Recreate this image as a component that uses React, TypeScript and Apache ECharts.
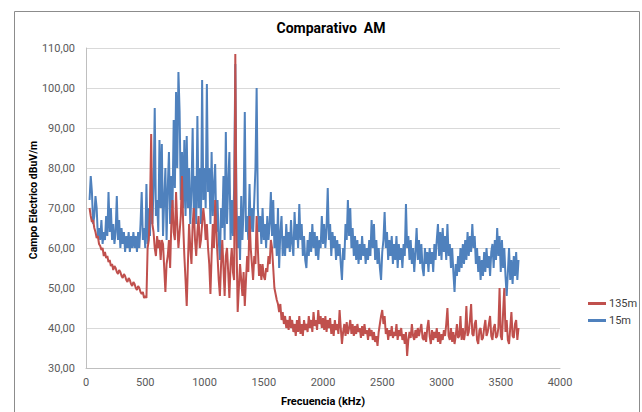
import React, { useEffect, useRef } from "react";
import * as echarts from "echarts";

// Sampling grid (kHz): first sample and spacing of the read-off values
const FREQ_START = 30;
const FREQ_STEP = 10;

const xTicks = [0, 500, 1000, 1500, 2000, 2500, 3000, 3500, 4000];
const yTicks = [30, 40, 50, 60, 70, 80, 90, 100, 110];

// 15m series (dBuV/m), one value per 10 kHz sample from 30 kHz
const values15m = [
  72, 78, 74, 66, 68, 73, 70, 63, 65, 62, 67, 61, 64, 62, 68, 63, 74, 64, 70, 62,
  66, 61, 64, 73, 62, 67, 60, 65, 61, 64, 59, 63, 60, 64, 59, 63, 60, 64, 60, 63,
  59, 64, 60, 66, 74, 62, 65, 60, 76, 61, 70, 63, 80, 66, 75, 95, 68, 72, 64, 87,
  70, 86, 63, 72, 80, 62, 75, 84, 66, 78, 70, 92, 75, 99, 80, 104, 94, 72, 84, 70,
  87, 68, 88, 70, 80, 66, 74, 90, 68, 78, 66, 93, 70, 80, 66, 102, 72, 80, 70, 101,
  74, 80, 66, 84, 68, 76, 81, 64, 72, 62, 57, 70, 65, 78, 62, 89, 66, 76, 84, 62,
  72, 63, 75, 106, 70, 60, 68, 57, 73, 62, 70, 94, 64, 68, 62, 76, 64, 70, 64, 72,
  80, 100, 70, 64, 68, 61, 70, 62, 66, 60, 68, 62, 66, 74, 63, 72, 60, 66, 58, 70,
  55, 64, 68, 58, 63, 58, 66, 60, 64, 59, 67, 61, 58, 69, 62, 66, 60, 71, 62, 66,
  58, 63, 57, 55, 62, 58, 64, 59, 66, 60, 64, 58, 63, 57, 62, 60, 68, 61, 66, 60,
  65, 75, 62, 66, 58, 64, 60, 63, 57, 62, 58, 61, 56, 52, 60, 57, 66, 62, 72, 63,
  70, 60, 65, 58, 63, 57, 62, 56, 61, 57, 63, 58, 61, 56, 60, 57, 62, 58, 67, 60,
  66, 57, 62, 56, 60, 55, 52, 59, 62, 69, 60, 64, 57, 62, 58, 63, 56, 61, 57, 63,
  55, 61, 57, 60, 55, 61, 58, 71, 60, 63, 57, 62, 56, 60, 54, 59, 65, 57, 62, 56,
  61, 55, 53, 60, 56, 59, 54, 60, 56, 59, 54, 61, 57, 62, 66, 58, 64, 57, 65, 59,
  63, 57, 66, 58, 61, 55, 60, 54, 49, 56, 53, 58, 54, 60, 55, 61, 56, 62, 57, 64,
  58, 63, 59, 66, 60, 63, 56, 60, 54, 58, 52, 57, 53, 59, 54, 60, 55, 58, 53, 59,
  61, 55, 62, 57, 65, 58, 63, 54, 62, 55, 60, 53, 48, 54, 60, 52, 57, 51, 58, 53,
  59, 52, 57,
];

// 135m series (dBuV/m), one value per 10 kHz sample from 30 kHz
const values135m = [
  70, 68, 66.5, 67, 65, 64, 62.5, 63, 61, 60.5, 59.5, 60, 58, 59, 57.5, 58, 56.5, 57, 55.5, 56,
  54.5, 55.5, 55, 54, 53.5, 54.5, 54, 53, 52.5, 53.5, 53, 52, 51.5, 52.5, 52, 51, 50.5, 51.5, 51, 50,
  49.5, 50.5, 50, 49, 48.5, 49, 47.5, 48, 47.5, 60, 62, 70, 88.5, 66, 64, 60, 58, 63, 60, 62,
  57, 62, 61, 55, 49, 56, 58, 62, 55, 66, 72, 64, 62, 74, 66, 60, 64, 68, 78, 66,
  58, 52, 45.5, 56, 66, 60, 56, 66, 70, 62, 58, 64, 68, 60, 62, 66, 70, 67, 62, 66,
  60, 56, 48.5, 58, 66, 60, 72, 64, 58, 52, 48, 56, 62, 55, 48, 58, 60, 54, 47.5, 56,
  60, 54, 52, 108.5, 62, 44, 50, 56, 52, 48, 54, 45.5, 52, 58, 54, 68, 60, 56, 52, 58,
  56, 68, 60, 53, 56, 52, 56, 53, 52, 55, 54, 58, 56, 62, 60, 55, 50, 48.5, 47, 46,
  44, 46, 42, 44, 41, 43, 40, 42, 39.5, 43, 40, 42, 39, 41, 38, 42, 39, 43, 38.5, 41,
  38, 42, 39.5, 41, 39, 43, 40, 42, 39, 44, 40.5, 42, 39.5, 44.5, 41, 43, 40, 42.5, 39.5, 43,
  39, 42, 40, 42.5, 38.5, 41, 38, 42, 39.5, 41, 38.5, 44.5, 40, 36, 39, 41, 38, 41.5, 38.5, 40,
  42, 38.5, 41, 38, 40.5, 38.5, 41, 39, 40, 37.5, 40.5, 38, 41, 38.5, 39.5, 37, 40, 38, 39.5, 37,
  39, 36.5, 38, 35.5, 39, 41, 43, 44.5, 41, 43, 38.5, 40, 37, 39.5, 38, 40.5, 37.5, 39, 38, 41,
  37, 39.5, 38, 40, 37, 38.5, 36, 39, 33, 37, 39, 37.5, 41, 38, 37, 39.5, 37.5, 40, 38, 39.5,
  41, 37.5, 37, 39, 36.5, 40, 42, 38, 36, 39.5, 37, 39, 37.5, 40, 36.5, 39, 36, 38.5, 37, 39.5,
  38, 41, 45, 38, 37, 40, 36.5, 39, 36, 38, 41, 37.5, 38, 43, 37, 40, 37, 39, 45.5, 38,
  39, 42, 46, 38.5, 38, 41, 42, 37, 36, 39.5, 40, 37, 37.5, 40, 42, 38, 39, 41, 43, 38,
  37, 40, 41, 37.5, 38, 40, 50, 38, 37, 44, 50, 39, 42, 37, 36, 40, 44, 38, 37.5, 41,
  42, 37, 40,
];

const toPairs = (vals: number[]) =>
  vals.map((v, i) => [FREQ_START + i * FREQ_STEP, v]);

const FONT = "Roboto";

export default function App() {
  const ref = useRef<HTMLDivElement>(null);
  useEffect(() => {
    if (!ref.current) return;
    const chart = echarts.init(ref.current, undefined, { renderer: "svg" });
    chart.setOption({
      animation: false,
      backgroundColor: "#ffffff",
      textStyle: { fontFamily: FONT },
      title: {
        text: "Comparativo  AM",
        left: 326,
        textAlign: "center",
        top: 16,
        textStyle: { fontFamily: FONT, fontSize: 14, fontWeight: "bold", color: "#000" },
      },
      graphic: [
        {
          type: "rect",
          shape: { x: 14.5, y: 11.5, width: 625, height: 420 },
          style: { fill: "none", stroke: "#8c8c8c", lineWidth: 1 },
          silent: true,
        },
        {
          type: "text",
          x: 33,
          y: 200,
          rotation: Math.PI / 2,
          silent: true,
          style: {
            text: "Campo Eléctrico dBuV/m",
            fontFamily: FONT,
            fontSize: 10.5,
            fontWeight: "bold",
            fill: "#000",
            align: "center",
            verticalAlign: "middle",
          },
        },
      ],
      legend: {
        orient: "vertical",
        left: 583,
        top: 293,
        itemWidth: 18,
        itemHeight: 3,
        itemGap: 6,
        icon: "rect",
        data: ["135m", "15m"],
        textStyle: { fontFamily: FONT, fontSize: 11, color: "#404040", padding: [0, 0, 0, -2] },
      },
      grid: { left: 86, right: 82, top: 48, bottom: 44, containLabel: false },
      xAxis: {
        type: "value",
        min: xTicks[0],
        max: xTicks[xTicks.length - 1],
        interval: 500,
        name: "Frecuencia (kHz)",
        nameLocation: "middle",
        nameGap: 28,
        nameTextStyle: { fontFamily: FONT, fontSize: 11, fontWeight: "bold", color: "#000" },
        axisLine: { lineStyle: { color: "#bfbfbf" } },
        axisTick: { show: false },
        splitLine: { show: false },
        axisLabel: {
          fontFamily: FONT,
          fontSize: 11,
          color: "#595959",
          margin: 9,
          formatter: (v: number) => String(v),
        },
      },
      yAxis: {
        type: "value",
        min: yTicks[0],
        max: yTicks[yTicks.length - 1],
        interval: 10,
        axisLine: { show: true, lineStyle: { color: "#bfbfbf" } },
        axisTick: { show: false },
        splitLine: { lineStyle: { color: "#d9d9d9" } },
        axisLabel: {
          fontFamily: FONT,
          fontSize: 11,
          color: "#595959",
          margin: 11,
          formatter: (v: number) => v.toFixed(2).replace(".", ","),
        },
      },
      series: [
        {
          name: "15m",
          type: "line",
          data: toPairs(values15m),
          showSymbol: false,
          color: "#4f81bd",
          lineStyle: { width: 2, color: "#4f81bd" },
          z: 2,
        },
        {
          name: "135m",
          type: "line",
          data: toPairs(values135m),
          showSymbol: false,
          color: "#c0504d",
          lineStyle: { width: 2, color: "#c0504d" },
          z: 3,
        },
      ],
    });
    return () => chart.dispose();
  }, []);
  return (
    <div
      ref={ref}
      style={{ position: "absolute", left: 0, top: 0, width: 642, height: 412 }}
    />
  );
}
